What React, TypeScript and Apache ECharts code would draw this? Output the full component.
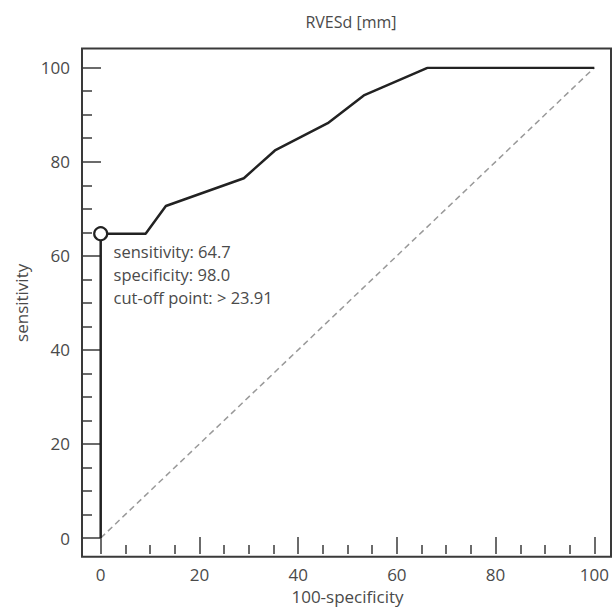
import React, { useEffect, useRef } from "react";
import * as echarts from "echarts";

const titleText = "RVESd [mm]";
const xAxisName = "100-specificity";
const yAxisName = "sensitivity";

// ROC curve: [100-specificity, sensitivity]
const rocX = [0, 0, 9.1, 13.2, 29.0, 35.3, 46.0, 53.3, 66.3, 100];
const rocY = [0, 64.7, 64.7, 70.6, 76.5, 82.4, 88.2, 94.1, 100, 100];

const diagX = [0, 100];
const diagY = [0, 100];

const cutoffPoint = [0, 64.7];
const cutoffSensitivity = "64.7";
const cutoffSpecificity = "98.0";
const cutoffValue = "23.91";

const FONT = "'Open Sans', 'DejaVu Sans', sans-serif";
const TEXT = "#4a4a4a";
const AX = "#3a3a3a";

export default function App() {
  const ref = useRef<HTMLDivElement>(null);
  useEffect(() => {
    if (!ref.current) return;
    const chart = echarts.init(ref.current, undefined, { renderer: "svg" });
    const W = 616;
    const H = 610;
    const plotL = 100.7, plotR = 594.3, plotT = 67.7, plotB = 540.7;
    const boxL = 82, boxR = 611, boxT = 48.5, boxB = 556.7;
    chart.setOption({
      animation: false,
      backgroundColor: "#fff",
      textStyle: { fontFamily: FONT },
      title: {
        text: titleText,
        left: 346,
        top: 9,
        textAlign: "center",
        textStyle: { fontFamily: FONT, fontSize: 16, fontWeight: "normal", color: TEXT },
      },
      graphic: [
        {
          type: "rect",
          z: 0,
          shape: { x: boxL, y: boxT, width: boxR - boxL, height: boxB - boxT },
          style: { fill: "none", stroke: AX, lineWidth: 2 },
          silent: true,
        },
      ],
      grid: {
        left: plotL,
        right: W - plotR,
        top: plotT,
        bottom: H - plotB,
        containLabel: false,
      },
      xAxis: {
        type: "value",
        min: 0,
        max: 100,
        interval: 20,
        offset: boxB - plotB,
        name: xAxisName,
        nameLocation: "middle",
        nameGap: 34,
        nameTextStyle: { fontFamily: FONT, fontSize: 17, color: TEXT },
        axisLine: { show: false, onZero: false },
        axisTick: { show: true, inside: true, length: 17, lineStyle: { color: AX, width: 1.5 } },
        minorTick: { show: true, splitNumber: 4, length: 9, lineStyle: { color: AX, width: 1.5 } },
        axisLabel: { fontFamily: FONT, fontSize: 17, color: TEXT, margin: 12 },
        splitLine: { show: false },
      },
      yAxis: {
        type: "value",
        min: 0,
        max: 100,
        interval: 20,
        offset: plotL - boxL,
        name: yAxisName,
        nameLocation: "middle",
        nameGap: 48,
        nameTextStyle: { fontFamily: FONT, fontSize: 17, color: TEXT },
        axisLine: { show: false, onZero: false },
        axisTick: { show: true, inside: true, length: 19, lineStyle: { color: AX, width: 1.5 } },
        minorTick: { show: true, splitNumber: 4, length: 10, lineStyle: { color: AX, width: 1.5 } },
        axisLabel: { fontFamily: FONT, fontSize: 17, color: TEXT, margin: 12 },
        splitLine: { show: false },
      },
      series: [
        {
          type: "line",
          data: diagX.map((x, i) => [x, diagY[i]]),
          symbol: "none",
          lineStyle: { color: "#999", width: 1.5, type: [6, 4] },
          z: 2,
          silent: true,
        },
        {
          type: "line",
          data: rocX.map((x, i) => [x, rocY[i]]),
          symbol: "none",
          lineStyle: { color: "#222", width: 2.5 },
          z: 3,
          silent: true,
        },
        {
          type: "scatter",
          data: [cutoffPoint],
          symbol: "circle",
          symbolSize: 13,
          itemStyle: { color: "#ffffff", borderColor: "#222", borderWidth: 2.2, opacity: 1 },
          z: 4,
          silent: true,
          label: {
            show: true,
            position: [20.5, 13.5],
            align: "left",
            verticalAlign: "top",
            fontFamily: FONT,
            fontSize: 16.5,
            lineHeight: 23,
            color: TEXT,
            formatter: () =>
              `sensitivity: ${cutoffSensitivity}\nspecificity: ${cutoffSpecificity}\ncut-off point: > ${cutoffValue}`,
          },
        },
      ],
    });
    return () => chart.dispose();
  }, []);
  return (
    <div
      ref={ref}
      style={{ position: "fixed", left: 0, top: 0, width: 616, height: 610 }}
    />
  );
}
